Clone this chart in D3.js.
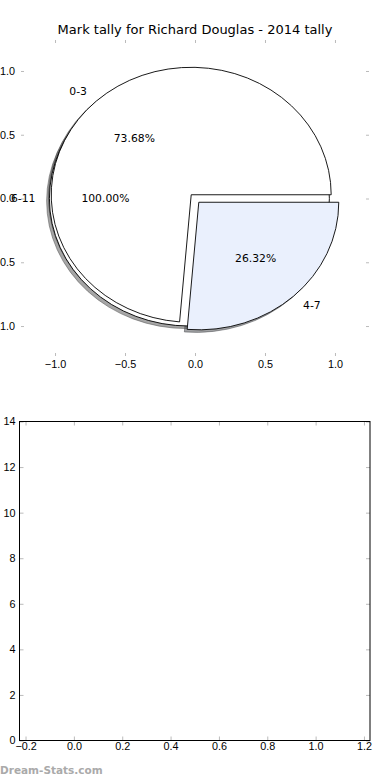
<!DOCTYPE html>
<html>
<head>
<meta charset="utf-8">
<script src="https://cdn.jsdelivr.net/npm/d3@7"></script>
<style>
  body { margin: 0; background: #fff; }
  svg { display: block; font-family: 'DejaVu Sans', sans-serif; }
</style>
</head>
<body>
<div id="chart"></div>
<script>
const title = 'Mark tally for Richard Douglas - 2014 tally';

// pie data (two pie calls drawn on the same axes)
const mainLabels = ['0-3', '4-7'];
const mainValues = [14, 5];
const mainColors = ['#ffffff', '#eaf0fd'];
const restLabels = ['6-11'];
const restValues = [1];
const restColors = ['#ffffff'];

const pieTicks = [-1, -0.5, 0, 0.5, 1];
const pieXLim = [-1.243, 1.243];
const pieYLim = [-1.235, 1.243];

// empty bar axes underneath
const barXLim = [-0.225, 1.225];
const barYLim = [0, 14];
const barTicksX = [-0.2, 0, 0.2, 0.4, 0.6, 0.8, 1.0, 1.2];
const barTicksY = [0, 2, 4, 6, 8, 10, 12, 14];

const watermark = 'Dream-Stats.com';

const width = 390;
const height = 780;
const explode = 0.04;
const fontSize = '10.8px';

const svg = d3.select('#chart')
  .append('svg')
  .attr('width', width)
  .attr('height', height);

// ---------- top: pie ----------
const x = d3.scaleLinear().domain(pieXLim).range([21, 369]);
const y = d3.scaleLinear().domain(pieYLim).range([356, 40]);

const fmt = d3.format('.1f');

function styleTicks(g) {
  g.select('.domain').remove();
  g.selectAll('.tick line').attr('stroke', '#bbb');
  g.selectAll('.tick text').attr('fill', '#000').style('font-size', fontSize);
}

svg.append('g').attr('transform', `translate(0,${y.range()[0]})`)
  .call(d3.axisBottom(x).tickValues(pieTicks).tickFormat(fmt).tickSizeInner(-3).tickSizeOuter(0).tickPadding(4.6))
  .call(styleTicks);
svg.append('g').attr('transform', `translate(0,${y.range()[1]})`)
  .call(d3.axisTop(x).tickValues(pieTicks).tickFormat('').tickSizeInner(-3).tickSizeOuter(0))
  .call(styleTicks);
svg.append('g').attr('transform', `translate(${x.range()[0]},0)`)
  .call(d3.axisLeft(y).tickValues(pieTicks).tickFormat(fmt).tickSizeInner(-3).tickSizeOuter(0).tickPadding(6))
  .call(styleTicks);
svg.append('g').attr('transform', `translate(${x.range()[1]},0)`)
  .call(d3.axisRight(y).tickValues(pieTicks).tickFormat('').tickSizeInner(-3).tickSizeOuter(0))
  .call(styleTicks);

svg.append('text')
  .attr('x', (x.range()[0] + x.range()[1]) / 2)
  .attr('y', 33.5)
  .attr('text-anchor', 'middle')
  .style('font-size', '13px')
  .text(title);

const rx = x(1) - x(0);
const ry = y(0) - y(1);
const arc = d3.arc().innerRadius(0).outerRadius(1);
// matplotlib starts at 3 o'clock and goes counter-clockwise
const pie = d3.pie().sort(null)
  .startAngle(Math.PI / 2)
  .endAngle(Math.PI / 2 - 2 * Math.PI);

function buildWedges(labels, values, colors) {
  const total = d3.sum(values);
  return pie(values).map((a, i) => {
    const mid = (a.startAngle + a.endAngle) / 2;
    const dirX = Math.sin(mid);
    const dirY = Math.cos(mid);
    return {
      arc: a,
      label: labels[i],
      pct: (values[i] / total * 100).toFixed(2) + '%',
      color: colors[i],
      cx: explode * dirX,
      cy: explode * dirY,
      dirX,
      dirY,
    };
  });
}

const wedges = buildWedges(restLabels, restValues, restColors)
  .concat(buildWedges(mainLabels, mainValues, mainColors));

const pieG = svg.append('g');

function shadowColor(d) {
  const c = d3.rgb(d.color);
  return `rgba(${c.r * 0.3},${c.g * 0.3},${c.b * 0.3},0.5)`;
}

// shadows (zorder below all wedges)
pieG.selectAll('path.shadow').data(wedges).join('path')
  .attr('class', 'shadow')
  .attr('d', (d) => arc(d.arc))
  .attr('transform', (d) => `translate(${x(d.cx - 0.02)},${y(d.cy - 0.02)}) scale(${rx},${ry})`)
  .attr('fill', shadowColor)
  .attr('stroke', shadowColor)
  .attr('vector-effect', 'non-scaling-stroke');

pieG.selectAll('path.wedge').data(wedges).join('path')
  .attr('class', 'wedge')
  .attr('d', (d) => arc(d.arc))
  .attr('transform', (d) => `translate(${x(d.cx)},${y(d.cy)}) scale(${rx},${ry})`)
  .attr('fill', (d) => d.color)
  .attr('stroke', '#000')
  .attr('stroke-width', 0.9)
  .attr('vector-effect', 'non-scaling-stroke');

// labels drawn on top of every patch
pieG.selectAll('text.lab').data(wedges).join('text')
  .attr('class', 'lab')
  .attr('x', (d) => x(d.cx + 1.1 * d.dirX))
  .attr('y', (d) => y(d.cy + 1.1 * d.dirY))
  .attr('dy', '0.35em')
  .attr('text-anchor', (d) => (d.dirX < 0 ? 'end' : 'start'))
  .style('font-size', fontSize)
  .text((d) => d.label);

pieG.selectAll('text.pct').data(wedges).join('text')
  .attr('class', 'pct')
  .attr('x', (d) => x(d.cx + 0.6 * d.dirX))
  .attr('y', (d) => y(d.cy + 0.6 * d.dirY))
  .attr('dy', '0.35em')
  .attr('text-anchor', 'middle')
  .style('font-size', fontSize)
  .text((d) => d.pct);

// ---------- bottom: empty axes ----------
const bx = d3.scaleLinear().domain(barXLim).range([19.5, 370]);
const by = d3.scaleLinear().domain(barYLim).range([740.5, 421.5]);

const barG = svg.append('g');

barG.append('g').attr('transform', `translate(0,${by.range()[0]})`)
  .call(d3.axisBottom(bx).tickValues(barTicksX).tickFormat(fmt).tickSizeInner(-4).tickSizeOuter(0).tickPadding(2.3))
  .call(styleTicks);
barG.append('g').attr('transform', `translate(0,${by.range()[1]})`)
  .call(d3.axisTop(bx).tickValues(barTicksX).tickFormat('').tickSizeInner(-4).tickSizeOuter(0))
  .call(styleTicks);
barG.append('g').attr('transform', `translate(${bx.range()[0]},0)`)
  .call(d3.axisLeft(by).tickValues(barTicksY).tickFormat(d3.format('d')).tickSizeInner(-4).tickSizeOuter(0).tickPadding(4))
  .call(styleTicks);
barG.append('g').attr('transform', `translate(${bx.range()[1]},0)`)
  .call(d3.axisRight(by).tickValues(barTicksY).tickFormat('').tickSizeInner(-4).tickSizeOuter(0))
  .call(styleTicks);

barG.append('rect')
  .attr('x', bx.range()[0])
  .attr('y', by.range()[1])
  .attr('width', bx.range()[1] - bx.range()[0])
  .attr('height', by.range()[0] - by.range()[1])
  .attr('fill', 'none')
  .attr('stroke', '#000')
  .attr('stroke-width', 1);

svg.append('text')
  .attr('x', 0)
  .attr('y', 774)
  .style('font-size', '10.5px')
  .style('font-weight', 'bold')
  .attr('fill', '#aaa')
  .text(watermark);
</script>
</body>
</html>
